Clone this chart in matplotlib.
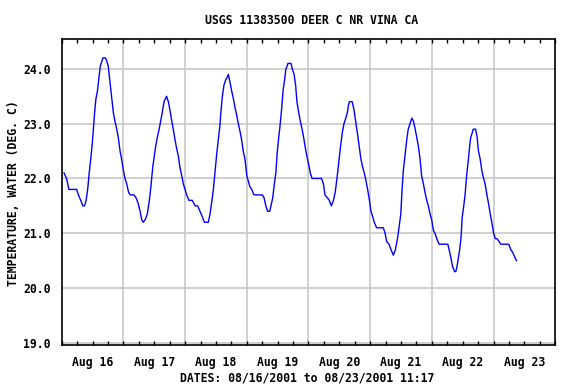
import numpy as np
import pandas as pd
import matplotlib
matplotlib.use("Agg")
import matplotlib.pyplot as plt
import matplotlib.dates as mdates

# hours after 2001-08-16 00:00, water temperature (deg C)
hours = [0.9, 1.9, 2.8, 5.8, 6.5, 7.4, 8.2, 8.9, 9.5, 10.1, 10.7, 11.4, 12.0, 12.4, 12.8,
         13.3, 13.9, 14.5, 15.0, 15.7, 16.0, 17.0, 17.5, 18.1, 18.8, 19.5, 20.1, 20.7, 21.4,
         22.0, 22.7, 23.3, 24.0, 24.6, 25.3, 26.0, 26.6, 28.1, 28.9, 29.7, 30.5, 31.1, 31.7,
         32.5, 33.3, 34.1, 34.7, 35.4, 36.0, 36.6, 37.2, 37.9, 38.5, 39.1, 39.8, 40.3, 40.8,
         41.5, 42.1, 42.8, 43.4, 44.1, 44.7, 45.4, 46.0, 46.7, 47.3, 48.0, 48.6, 49.5, 50.8,
         51.9, 52.9, 53.8, 54.7, 55.5, 57.0, 57.7, 58.3, 59.0, 59.6, 60.3, 60.9, 61.5, 62.0,
         62.5, 63.1, 63.8, 64.4, 64.8, 65.5, 66.1, 66.8, 67.4, 68.1, 68.7, 69.4, 70.0, 70.6,
         71.3, 72.0, 72.6, 73.2, 73.9, 74.8, 78.0, 78.7, 79.4, 80.1, 80.9, 81.4, 82.1, 82.7,
         83.3, 83.8, 84.3, 84.9, 85.6, 86.1, 86.7, 87.2, 87.7, 88.0, 89.2, 89.7, 90.4, 91.0,
         91.5, 92.2, 92.8, 93.5, 94.1, 94.8, 95.4, 96.1, 96.7, 97.4, 101.1, 101.8, 102.4,
         103.3, 104.1, 104.9, 105.7, 106.4, 107.2, 107.9, 108.5, 109.2, 109.8, 110.5, 111.1,
         111.6, 111.9, 113.0, 113.7, 114.5, 115.1, 115.8, 116.4, 117.1, 117.7, 118.4, 119.0,
         119.7, 120.3, 121.0, 121.6, 122.5, 125.1, 125.8, 126.4, 127.3, 128.1, 129.0, 129.8,
         130.6, 131.2, 131.9, 132.4, 132.9, 133.6, 134.2, 134.8, 135.5, 136.2, 136.8, 137.5,
         138.1, 138.7, 139.4, 140.0, 140.7, 141.3, 142.0, 142.6, 143.3, 143.9, 144.6, 145.2,
         145.9, 146.8, 150.2, 150.7, 151.4, 152.0, 152.8, 153.3, 153.8, 154.3, 154.8, 155.3,
         155.8, 156.4, 156.9, 157.5, 158.2, 158.6, 159.1, 159.8, 160.1, 161.0, 161.6, 162.1,
         162.8, 163.4, 164.1, 164.7, 165.4, 166.0, 166.7, 167.3, 168.0, 168.7, 169.3, 170.1,
         170.8, 173.9, 174.7, 175.4, 176.9]
temps = [22.1, 22.0, 21.8, 21.8, 21.7, 21.6, 21.5, 21.5, 21.6, 21.8, 22.1, 22.4, 22.7, 22.95, 23.2,
         23.45, 23.6, 23.85, 24.05, 24.15, 24.2, 24.2, 24.15, 24.05, 23.75, 23.45, 23.2, 23.05, 22.9,
         22.75, 22.5, 22.35, 22.15, 22.0, 21.9, 21.75, 21.7, 21.7, 21.65, 21.55, 21.4, 21.25, 21.2,
         21.25, 21.35, 21.6, 21.85, 22.2, 22.4, 22.6, 22.75, 22.9, 23.05, 23.2, 23.4, 23.45, 23.5,
         23.4, 23.25, 23.05, 22.9, 22.7, 22.55, 22.4, 22.2, 22.05, 21.9, 21.8, 21.7, 21.6, 21.6,
         21.5, 21.5, 21.4, 21.3, 21.2, 21.2, 21.35, 21.55, 21.8, 22.1, 22.45, 22.7, 22.95, 23.25,
         23.5, 23.7, 23.8, 23.85, 23.9, 23.75, 23.6, 23.45, 23.3, 23.15, 23.0, 22.85, 22.7, 22.5,
         22.35, 22.05, 21.95, 21.85, 21.8, 21.7, 21.7, 21.65, 21.5, 21.4, 21.4, 21.5, 21.65, 21.9,
         22.1, 22.45, 22.7, 22.95, 23.3, 23.6, 23.8, 24.0, 24.05, 24.1, 24.1, 24.0, 23.9, 23.7,
         23.4, 23.2, 23.05, 22.9, 22.75, 22.55, 22.4, 22.25, 22.1, 22.0, 22.0, 21.9, 21.7,
         21.65, 21.6, 21.5, 21.6, 21.75, 22.05, 22.35, 22.6, 22.85, 23.0, 23.1, 23.2,
         23.35, 23.4, 23.4, 23.25, 23.0, 22.8, 22.55, 22.35, 22.2, 22.1, 21.95, 21.8,
         21.6, 21.4, 21.3, 21.2, 21.1, 21.1, 21.0, 20.85, 20.8, 20.7, 20.6, 20.7,
         20.9, 21.1, 21.35, 21.8, 22.15, 22.45, 22.7, 22.9, 23.0, 23.1, 23.05, 22.9,
         22.75, 22.6, 22.35, 22.05, 21.9, 21.75, 21.6, 21.5, 21.35, 21.25, 21.05, 21.0,
         20.9, 20.8, 20.8, 20.7, 20.55, 20.4, 20.3, 20.3, 20.4, 20.55, 20.7, 20.9,
         21.3, 21.5, 21.7, 22.05, 22.35, 22.55, 22.75, 22.85, 22.9, 22.9, 22.75, 22.5,
         22.35, 22.15, 22.0, 21.9, 21.7, 21.55, 21.35, 21.2, 21.0, 20.9, 20.9, 20.85,
         20.8, 20.8, 20.7, 20.65, 20.5]
y_ticks = [19.0, 20.0, 21.0, 22.0, 23.0, 24.0]

start = pd.Timestamp("2001-08-16 00:00")
end = pd.Timestamp("2001-08-24 00:00")
times = start + pd.to_timedelta(hours, unit="h")

font = "DejaVu Sans Mono"
fs = 8.3

fig = plt.figure(figsize=(5.76, 3.84), dpi=100)
ax = fig.add_axes([61.7 / 576, 1 - 345 / 384, (555.3 - 61.7) / 576, (345 - 39.3) / 384])

grid_c = "#c8c8c8"
for d in pd.date_range("2001-08-17", "2001-08-23", freq="D"):
    ax.axvline(d, color=grid_c, lw=1.2, zorder=1)
for v in y_ticks:
    ax.axhline(v, color=grid_c, lw=1.2, zorder=1)

ax.plot(times, temps, color="#0000ff", lw=1.0, zorder=3)

ax.set_xlim(start, end)
ax.set_ylim(18.96, 24.54)

ax.set_yticks(y_ticks)
ax.set_yticklabels([f"{v:.1f}" for v in y_ticks], fontfamily=font, fontweight="bold", fontsize=fs)
ax.tick_params(axis="y", length=0, pad=8)

ax.xaxis.set_major_locator(mdates.HourLocator(byhour=[12]))
ax.xaxis.set_major_formatter(mdates.DateFormatter("%b %d"))
ax.xaxis.set_minor_locator(mdates.HourLocator(byhour=[0, 6, 18]))
ax.tick_params(axis="x", which="both", direction="in", length=3, width=1,
               top=True, bottom=True, pad=8)
for lab in ax.get_xticklabels():
    lab.set_fontfamily(font)
    lab.set_fontweight("bold")
    lab.set_fontsize(fs)

for s in ax.spines.values():
    s.set_linewidth(1.2)
    s.set_color("black")

fig.text(312 / 576, 1 - 20 / 384, "USGS 11383500 DEER C NR VINA CA", ha="center", va="center",
         fontfamily=font, fontweight="bold", fontsize=fs)
fig.text(307 / 576, 1 - 378 / 384, "DATES: 08/16/2001 to 08/23/2001 11:17", ha="center",
         va="center", fontfamily=font, fontweight="bold", fontsize=fs)
fig.text(14 / 576, 1 - 193 / 384, "TEMPERATURE, WATER (DEG. C)", ha="center", va="center",
         rotation=90, fontfamily=font, fontweight="bold", fontsize=fs)

fig.savefig("out.png", dpi=100)
